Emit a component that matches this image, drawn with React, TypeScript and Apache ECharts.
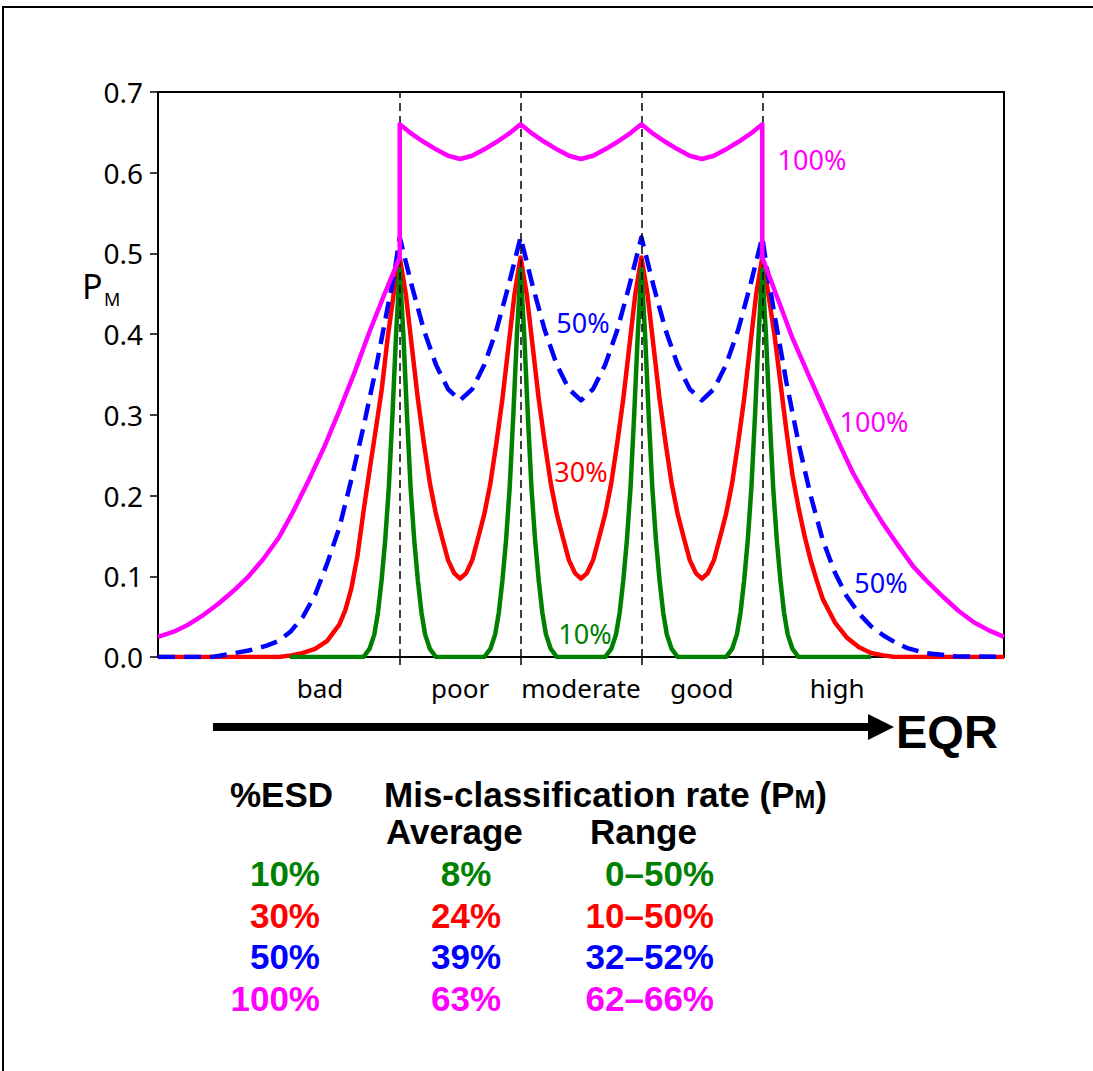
import React, { useEffect, useRef } from "react";
import * as echarts from "echarts";

// ---------- data ----------
const classNames = ["bad", "poor", "moderate", "good", "high"];
const classLabelPos = [1.34, 2.5, 3.5, 4.5, 5.62];
const classBoundaries = [2, 3, 4, 5];

// 10% ESD (green)
const esd10: [number, number][] = [
  [1.09, 0], [1.7, 0], [1.75, 0.01], [1.79, 0.028], [1.82, 0.055], [1.85, 0.095], [1.88, 0.145], [1.91, 0.21], [1.94, 0.3], [1.97, 0.4], [2.0, 0.48],
  [2.03, 0.4], [2.06, 0.3], [2.09, 0.21], [2.12, 0.145], [2.15, 0.095], [2.18, 0.055], [2.21, 0.028], [2.25, 0.01], [2.3, 0],
  [2.7, 0], [2.75, 0.01], [2.79, 0.028], [2.82, 0.055], [2.85, 0.095], [2.88, 0.145], [2.91, 0.21], [2.94, 0.3], [2.97, 0.4], [3.0, 0.48],
  [3.03, 0.4], [3.06, 0.3], [3.09, 0.21], [3.12, 0.145], [3.15, 0.095], [3.18, 0.055], [3.21, 0.028], [3.25, 0.01], [3.3, 0],
  [3.7, 0], [3.75, 0.01], [3.79, 0.028], [3.82, 0.055], [3.85, 0.095], [3.88, 0.145], [3.91, 0.21], [3.94, 0.3], [3.97, 0.4], [4.0, 0.48],
  [4.03, 0.4], [4.06, 0.3], [4.09, 0.21], [4.12, 0.145], [4.15, 0.095], [4.18, 0.055], [4.21, 0.028], [4.25, 0.01], [4.3, 0],
  [4.7, 0], [4.75, 0.01], [4.79, 0.028], [4.82, 0.055], [4.85, 0.095], [4.88, 0.145], [4.91, 0.21], [4.94, 0.3], [4.97, 0.4], [5.0, 0.48],
  [5.03, 0.4], [5.06, 0.3], [5.09, 0.21], [5.12, 0.145], [5.15, 0.095], [5.18, 0.055], [5.21, 0.028], [5.25, 0.01], [5.3, 0], [5.9, 0],
];

// 30% ESD (red)
const esd30: [number, number][] = [
  [0, 0], [1.0, 0], [1.1, 0.002], [1.2, 0.005], [1.3, 0.01], [1.4, 0.02], [1.5, 0.04], [1.55, 0.058], [1.6, 0.085], [1.65, 0.125], [1.7, 0.18], [1.75, 0.231], [1.8, 0.28], [1.85, 0.33], [1.9, 0.395], [1.95, 0.45], [2.0, 0.495],
  [2.05, 0.45], [2.1, 0.385], [2.15, 0.32], [2.2, 0.265], [2.25, 0.215], [2.3, 0.177], [2.35, 0.148], [2.4, 0.12], [2.45, 0.104], [2.5, 0.097],
  [2.55, 0.104], [2.6, 0.12], [2.65, 0.148], [2.7, 0.177], [2.75, 0.215], [2.8, 0.265], [2.85, 0.32], [2.9, 0.385], [2.95, 0.45], [3.0, 0.495],
  [3.05, 0.45], [3.1, 0.385], [3.15, 0.32], [3.2, 0.265], [3.25, 0.215], [3.3, 0.177], [3.35, 0.148], [3.4, 0.12], [3.45, 0.104], [3.5, 0.097],
  [3.55, 0.104], [3.6, 0.12], [3.65, 0.148], [3.7, 0.177], [3.75, 0.215], [3.8, 0.265], [3.85, 0.32], [3.9, 0.385], [3.95, 0.45], [4.0, 0.495],
  [4.05, 0.45], [4.1, 0.385], [4.15, 0.32], [4.2, 0.265], [4.25, 0.215], [4.3, 0.177], [4.35, 0.148], [4.4, 0.12], [4.45, 0.104], [4.5, 0.097],
  [4.55, 0.104], [4.6, 0.12], [4.65, 0.148], [4.7, 0.177], [4.75, 0.215], [4.8, 0.265], [4.85, 0.32], [4.9, 0.385], [4.95, 0.45], [5.0, 0.495],
  [5.05, 0.45], [5.1, 0.4], [5.15, 0.34], [5.2, 0.28], [5.25, 0.225], [5.3, 0.185], [5.35, 0.15], [5.4, 0.12], [5.45, 0.095], [5.5, 0.072],
  [5.6, 0.043], [5.7, 0.024], [5.8, 0.012], [5.9, 0.005], [6.0, 0.002], [6.1, 0], [7.0, 0],
];

// 50% ESD (blue, dashed)
const esd50: [number, number][] = [
  [0, 0], [0.45, 0], [0.6, 0.004], [0.75, 0.008], [0.9, 0.014], [1.0, 0.02], [1.1, 0.032], [1.2, 0.05], [1.3, 0.077], [1.4, 0.116], [1.5, 0.16], [1.6, 0.22], [1.7, 0.285], [1.8, 0.355], [1.9, 0.433], [1.95, 0.47], [2.0, 0.52],
  [2.05, 0.49], [2.1, 0.46], [2.2, 0.405], [2.3, 0.362], [2.4, 0.332], [2.5, 0.318], [2.6, 0.332], [2.7, 0.362], [2.8, 0.405], [2.9, 0.46], [2.95, 0.49], [3.0, 0.52],
  [3.05, 0.49], [3.1, 0.46], [3.2, 0.405], [3.3, 0.362], [3.4, 0.332], [3.5, 0.318], [3.6, 0.332], [3.7, 0.362], [3.8, 0.405], [3.9, 0.46], [3.95, 0.49], [4.0, 0.52],
  [4.05, 0.49], [4.1, 0.46], [4.2, 0.405], [4.3, 0.362], [4.4, 0.332], [4.5, 0.318], [4.6, 0.332], [4.7, 0.362], [4.8, 0.405], [4.9, 0.46], [4.95, 0.49], [5.0, 0.52],
  [5.05, 0.47], [5.1, 0.425], [5.2, 0.34], [5.3, 0.265], [5.4, 0.2], [5.5, 0.145], [5.6, 0.105], [5.7, 0.075], [5.8, 0.054], [5.9, 0.038], [6.0, 0.027],
  [6.1, 0.018], [6.2, 0.011], [6.35, 0.005], [6.6, 0.001], [7.0, 0],
];

// 100% ESD (magenta)
const esd100: [number, number][] = [
  [0, 0.025], [0.125, 0.031], [0.25, 0.04], [0.375, 0.052], [0.5, 0.066], [0.625, 0.082], [0.75, 0.1], [0.875, 0.122], [1.0, 0.148], [1.125, 0.182], [1.25, 0.22], [1.375, 0.26], [1.5, 0.305], [1.625, 0.352], [1.75, 0.403], [1.875, 0.45], [2.0, 0.495],
  [2.0, 0.66], [2.1, 0.648], [2.2, 0.638], [2.3, 0.629], [2.4, 0.621], [2.5, 0.617], [2.6, 0.621], [2.7, 0.629], [2.8, 0.638], [2.9, 0.648], [3.0, 0.66],
  [3.1, 0.648], [3.2, 0.638], [3.3, 0.629], [3.4, 0.621], [3.5, 0.617], [3.6, 0.621], [3.7, 0.629], [3.8, 0.638], [3.9, 0.648], [4.0, 0.66],
  [4.1, 0.648], [4.2, 0.638], [4.3, 0.629], [4.4, 0.621], [4.5, 0.617], [4.6, 0.621], [4.7, 0.629], [4.8, 0.638], [4.9, 0.648], [5.0, 0.66],
  [5.0, 0.495], [5.125, 0.445], [5.25, 0.395], [5.375, 0.352], [5.5, 0.31], [5.625, 0.268], [5.75, 0.228], [5.875, 0.195], [6.0, 0.165],
  [6.125, 0.138], [6.25, 0.112], [6.375, 0.092], [6.5, 0.074], [6.625, 0.057], [6.75, 0.043], [6.875, 0.033], [7.0, 0.025],
];

// summary table
const tableEsd = ["10%", "30%", "50%", "100%"];
const tableAvg = ["8%", "24%", "39%", "63%"];
const tableRange = ["0\u201350%", "10\u201350%", "32\u201352%", "62\u201366%"];
const tableColors = ["#008000", "#ff0000", "#0000ff", "#ff00ff"];

// ---------- layout / style ----------
const GREEN = "#008000";
const RED = "#ff0000";
const BLUE = "#0000ff";
const MAGENTA = "#ff00ff";
const SANS = '"Noto Sans", "DejaVu Sans", sans-serif';
const BOLD = '"Liberation Sans", Arial, sans-serif';

function lineSeries(name: string, data: [number, number][], color: string, dashed: boolean, z: number) {
  return {
    type: "line",
    name,
    data,
    symbol: "none",
    showSymbol: false,
    silent: true,
    z,
    lineStyle: { color, width: 4.5, type: dashed ? [17, 9] : "solid", cap: "butt", join: "round" },
    itemStyle: { color },
  };
}

function txt(x: number, y: number, text: string, color: string, font: string, align = "left", vAlign = "middle") {
  return {
    type: "text",
    x,
    y,
    silent: true,
    style: {
      text,
      fill: color,
      font,
      align,
      textAlign: align,
      verticalAlign: vAlign,
      textVerticalAlign: vAlign,
    },
  };
}

export default function App() {
  const ref = useRef<HTMLDivElement>(null);

  useEffect(() => {
    document.body.style.margin = "0";
    if (!ref.current) return;
    const chart = echarts.init(ref.current, null, { renderer: "svg" });

    const rowY = [873, 915, 956, 998];
    const tableTexts: any[] = [];
    tableEsd.forEach((t, i) => {
      tableTexts.push(txt(320, rowY[i], t, tableColors[i], `bold 35px ${BOLD}`, "right"));
      tableTexts.push(txt(466, rowY[i], tableAvg[i], tableColors[i], `bold 35px ${BOLD}`, "center"));
      tableTexts.push(txt(714, rowY[i], tableRange[i], tableColors[i], `bold 35px ${BOLD}`, "right"));
    });

    const option: any = {
      animation: false,
      backgroundColor: "#ffffff",
      grid: {
        left: 158,
        top: 92,
        right: 89,
        bottom: 414,
        show: true,
        borderColor: "#000",
        borderWidth: 2,
        backgroundColor: "transparent",
      },
      xAxis: {
        type: "value",
        min: 0,
        max: 7,
        axisLine: { show: true, onZero: false, lineStyle: { color: "#000", width: 2 } },
        axisTick: { show: true, customValues: classBoundaries, length: 8, lineStyle: { color: "#000", width: 1.5 } },
        axisLabel: {
          customValues: classLabelPos,
          formatter: (v: number) => {
            const i = classLabelPos.findIndex((p) => Math.abs(p - v) < 1e-6);
            return i >= 0 ? classNames[i] : "";
          },
          fontFamily: SANS,
          fontSize: 26,
          color: "#000",
          margin: 18,
        },
        splitLine: { show: false },
      },
      yAxis: {
        type: "value",
        min: 0,
        max: 0.7,
        interval: 0.1,
        axisLine: { show: true, lineStyle: { color: "#000", width: 2 } },
        axisTick: { show: true, length: 8, lineStyle: { color: "#000", width: 1.5 } },
        axisLabel: {
          formatter: (v: number) => v.toFixed(1),
          fontFamily: SANS,
          fontSize: 28,
          color: "#000",
          margin: 15,
        },
        splitLine: { show: false },
      },
      series: [
        lineSeries("30%", esd30, RED, false, 2),
        lineSeries("10%", esd10, GREEN, false, 3),
        lineSeries("50%", esd50, BLUE, true, 4),
        lineSeries("100%", esd100, MAGENTA, false, 5),
        {
          type: "line",
          data: [],
          z: 10,
          silent: true,
          markLine: {
            silent: true,
            symbol: ["none", "none"],
            label: { show: false },
            lineStyle: { color: "#000", width: 1.5, type: [8, 5] },
            data: classBoundaries.map((b) => [{ coord: [b, 0] }, { coord: [b, 0.7] }]),
          },
        },
      ],
      graphic: [
        {
          type: "polyline",
          silent: true,
          shape: { points: [[3, 1071], [3, 7], [1093, 7]] },
          style: { stroke: "#000", lineWidth: 2, fill: null },
        },
        txt(82, 286, "P", "#000", `34px ${SANS}`),
        txt(104, 299, "M", "#000", `18px ${SANS}`),
        txt(812, 159, "100%", MAGENTA, `27px ${SANS}`, "center"),
        txt(874, 421, "100%", MAGENTA, `27px ${SANS}`, "center"),
        txt(583, 322, "50%", BLUE, `27px ${SANS}`, "center"),
        txt(881, 582, "50%", BLUE, `27px ${SANS}`, "center"),
        txt(581, 471, "30%", RED, `27px ${SANS}`, "center"),
        txt(585, 633, "10%", GREEN, `27px ${SANS}`, "center"),
        {
          type: "line",
          silent: true,
          shape: { x1: 213, y1: 727, x2: 872, y2: 727 },
          style: { stroke: "#000", lineWidth: 8 },
        },
        {
          type: "polygon",
          silent: true,
          shape: { points: [[868, 714], [894, 727], [868, 740]] },
          style: { fill: "#000" },
        },
        txt(896, 731, "EQR", "#000", `bold 47px ${BOLD}`),
        txt(230, 794, "%ESD", "#000", `bold 35px ${BOLD}`),
        {
          type: "text",
          x: 384,
          y: 794,
          silent: true,
          style: {
            text: "Mis-classification rate (P{s|M})",
            fill: "#000",
            font: `bold 35px ${BOLD}`,
            align: "left",
            textAlign: "left",
            verticalAlign: "middle",
            textVerticalAlign: "middle",
            rich: {
              s: { fontSize: 25, fontWeight: "bold", fontFamily: BOLD, fill: "#000", verticalAlign: "bottom", lineHeight: 25 },
            },
          },
        },
        txt(386, 831, "Average", "#000", `bold 35px ${BOLD}`),
        txt(590, 831, "Range", "#000", `bold 35px ${BOLD}`),
        ...tableTexts,
      ],
    };

    chart.setOption(option);
    return () => chart.dispose();
  }, []);

  return <div ref={ref} style={{ width: 1093, height: 1071 }} />;
}
